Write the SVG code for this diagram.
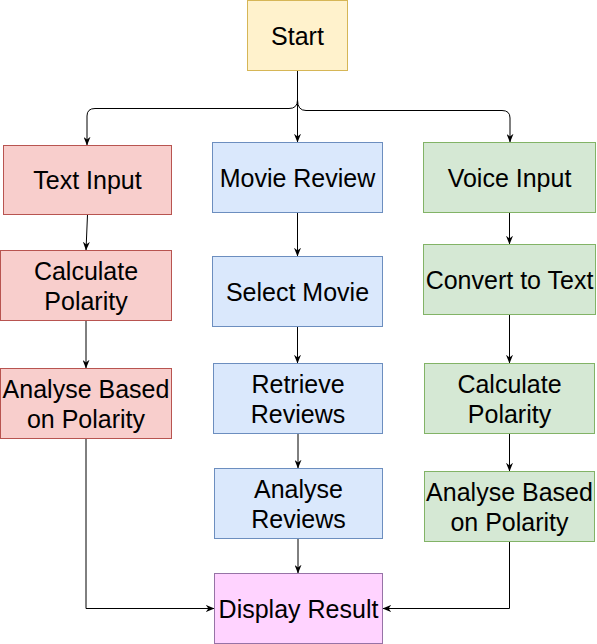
<svg xmlns="http://www.w3.org/2000/svg" width="597" height="644" viewBox="0 0 597 644">
<defs>
<marker id="arr" viewBox="0 0 10 8" refX="10" refY="4" markerWidth="9" markerHeight="7" markerUnits="userSpaceOnUse" orient="auto">
<path d="M0,0 L10,4 L0,8 L3,4 Z" fill="#000"/>
</marker>
<style>
text{font-family:"Liberation Sans",Arial,Helvetica,sans-serif;font-size:25px;fill:#000;text-anchor:middle}
.c{fill:none;stroke:#000;stroke-width:1;marker-end:url(#arr)}
.y{fill:#fff2cc;stroke:#d6b656}
.r{fill:#f8cecc;stroke:#b85450}
.b{fill:#dae8fc;stroke:#6c8ebf}
.g{fill:#d5e8d4;stroke:#82b366}
.p{fill:#ffd3ff;stroke:#9673a6}
</style>
</defs>
<g id="connectors">
<path class="c" d="M297.5,70.5 L297.5,142.5"/>
<path class="c" d="M297.5,100 Q297.5,108.5 289,108.5 L95,108.5 Q87,108.5 87,116 L87,145.5"/>
<path class="c" d="M297.5,100 Q297.5,110.5 306,110.5 L502,110.5 Q510,110.5 510,118 L510,142.5"/>
<path class="c" d="M87.5,214.5 L86,250.5"/>
<path class="c" d="M86,320.5 L86,368.5"/>
<path class="c" d="M297.5,212.5 L297.5,256.5"/>
<path class="c" d="M297.5,326.5 L297.5,363.5"/>
<path class="c" d="M298,433.5 L298,468.5"/>
<path class="c" d="M298,538.5 L298,573.5"/>
<path class="c" d="M509.5,212.5 L509.5,244.5"/>
<path class="c" d="M509.5,314.5 L509.5,363.5"/>
<path class="c" d="M509.5,433.5 L509.5,471.5"/>
<path class="c" d="M86,438.5 L86,608.5 L214.5,608.5"/>
<path class="c" d="M509.5,541.5 L509.5,608.5 L382.5,608.5"/>
</g>
<g id="start"><rect class="y" x="247.5" y="0.5" width="100" height="70"/><text x="297.5" y="44.5">Start</text></g>
<g id="text-input"><rect class="r" x="3.5" y="145.5" width="168" height="69"/><text x="87.5" y="189">Text Input</text></g>
<g id="calc-red"><rect class="r" x="0.5" y="250.5" width="171" height="70"/><text x="86" y="279.5">Calculate</text><text x="86" y="309.5">Polarity</text></g>
<g id="analyse-red"><rect class="r" x="0.5" y="368.5" width="171" height="70"/><text x="86" y="397.5">Analyse Based</text><text x="86" y="427.5">on Polarity</text></g>
<g id="movie-review"><rect class="b" x="212.5" y="142.5" width="170" height="70"/><text x="297.5" y="186.5">Movie Review</text></g>
<g id="select-movie"><rect class="b" x="212.5" y="256.5" width="170" height="70"/><text x="297.5" y="300.5">Select Movie</text></g>
<g id="retrieve"><rect class="b" x="213.5" y="363.5" width="169" height="70"/><text x="298" y="392.5">Retrieve</text><text x="298" y="422.5">Reviews</text></g>
<g id="analyse-reviews"><rect class="b" x="214.5" y="468.5" width="168" height="70"/><text x="298.5" y="497.5">Analyse</text><text x="298.5" y="527.5">Reviews</text></g>
<g id="display"><rect class="p" x="214.5" y="573.5" width="168" height="70"/><text x="298.5" y="617.5">Display Result</text></g>
<g id="voice-input"><rect class="g" x="423.5" y="142.5" width="172" height="70"/><text x="509.5" y="186.5">Voice Input</text></g>
<g id="convert"><rect class="g" x="423.5" y="244.5" width="172" height="70"/><text x="509.5" y="288.5">Convert to Text</text></g>
<g id="calc-green"><rect class="g" x="424.5" y="363.5" width="170" height="70"/><text x="509.5" y="392.5">Calculate</text><text x="509.5" y="422.5">Polarity</text></g>
<g id="analyse-green"><rect class="g" x="424.5" y="471.5" width="170" height="70"/><text x="509.5" y="500.5">Analyse Based</text><text x="509.5" y="530.5">on Polarity</text></g>
</svg>
